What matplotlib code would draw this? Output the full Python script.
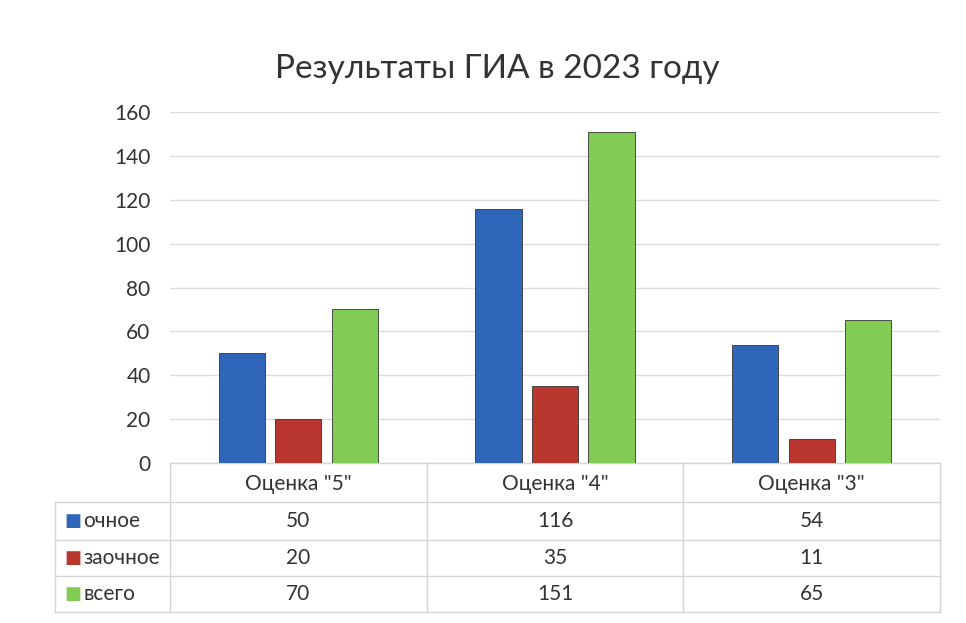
import matplotlib
matplotlib.use("Agg")
import matplotlib.pyplot as plt
import matplotlib.transforms as mtransforms
import numpy as np

categories = ['Оценка "5"', 'Оценка "4"', 'Оценка "3"']
series_names = ["очное", "заочное", "всего"]
ochnoe = [50, 116, 54]
zaochnoe = [20, 35, 11]
vsego = [70, 151, 65]
series_values = [ochnoe, zaochnoe, vsego]
colors = ["#2F66BA", "#B8362E", "#82CC55"]
yticks = [0, 20, 40, 60, 80, 100, 120, 140, 160]

plt.rcParams['font.family'] = ['Lato', 'DejaVu Sans']

fig = plt.figure(figsize=(9.66, 6.23), dpi=100)
ax = fig.add_axes([0.176, 0.257, 0.797, 0.563])

x = np.arange(len(categories))
w = 0.18
offsets = [-0.22, 0.0, 0.22]
for vals, off, c in zip(series_values, offsets, colors):
    ax.bar(x + off, vals, width=w, color=c, edgecolor="#333333", linewidth=0.6, zorder=3)

ax.set_xlim(-0.5, 2.5)
ax.set_ylim(0, 160)
ax.set_yticks(yticks)
ax.set_yticklabels([str(t) for t in yticks], fontsize=15, color="#333333")
ax.tick_params(axis='y', length=0, pad=14)
ax.set_xticks([])
ax.grid(axis='y', color="#DDDDDD", linewidth=1, zorder=0)
for s in ax.spines.values():
    s.set_visible(False)

fig.text(0.515, 0.89, "Результаты ГИА в 2023 году", ha="center", va="center",
         fontsize=24, color="#333333")

# data table below the axes
trans = mtransforms.blended_transform_factory(ax.transData, ax.transAxes)
ax_h_px = 0.563 * 623
def ay(py):
    # convert pixel row (from figure top) to axes fraction
    return (463 - py) / ax_h_px

line_kw = dict(color="#D5D5D5", linewidth=1, clip_on=False, transform=trans)
row_lines = [463, 502, 540, 576, 612]
ax.plot([-0.5, 2.5], [ay(463)] * 2, **line_kw)
leg_left = -0.5 - (170 - 55) / (770 / 3)
for py in row_lines[1:]:
    ax.plot([leg_left, 2.5], [ay(py)] * 2, **line_kw)
for xb in [-0.5, 0.5, 1.5, 2.5]:
    ax.plot([xb, xb], [ay(463), ay(612)], **line_kw)
ax.plot([leg_left, leg_left], [ay(502), ay(612)], **line_kw)

for i, cat in enumerate(categories):
    ax.text(i, ay(484), cat, ha="center", va="center", fontsize=15,
            color="#333333", transform=trans, clip_on=False)
row_centers = [521, 558, 594]
for r, (name, vals, c) in enumerate(zip(series_names, series_values, colors)):
    yc = ay(row_centers[r])
    ax.text(leg_left + 0.035, yc, "■", ha="left", va="center", fontsize=13,
            color=c, transform=trans, clip_on=False, family="DejaVu Sans")
    ax.text(leg_left + 0.11, yc, name, ha="left", va="center", fontsize=15,
            color="#333333", transform=trans, clip_on=False)
    for i, v in enumerate(vals):
        ax.text(i, yc, str(v), ha="center", va="center", fontsize=15,
                color="#333333", transform=trans, clip_on=False)

fig.savefig("out.png", dpi=100, facecolor="white")
